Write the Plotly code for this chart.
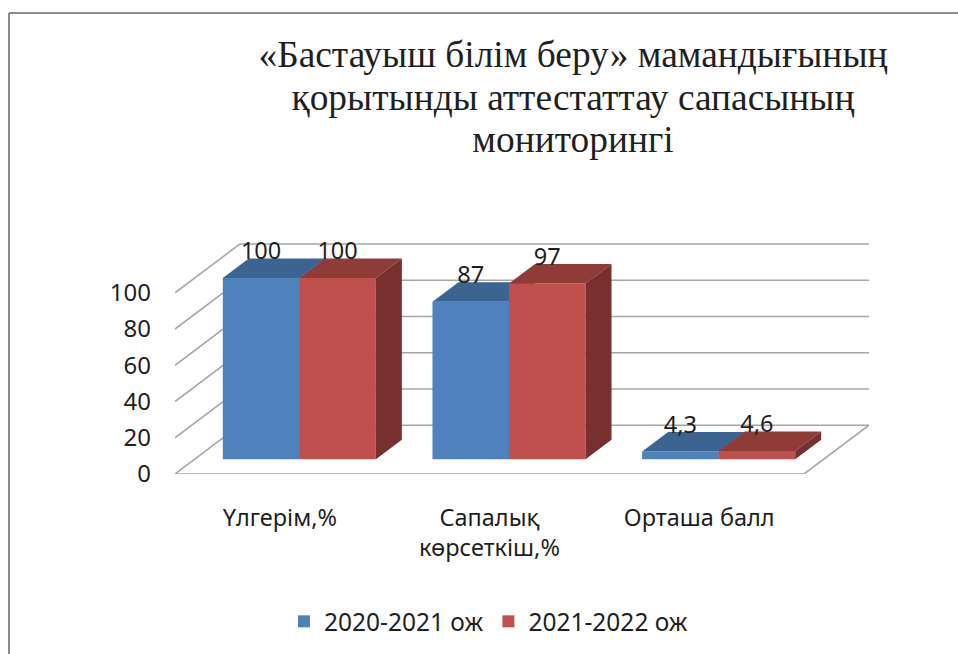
import plotly.graph_objects as go

# ---- data ----
categories = ["Үлгерім,%", "Сапалық<br>көрсеткіш,%", "Орташа балл"]
series_names = ["2020-2021 ож", "2021-2022 ож"]
values_2021 = [100, 87, 4.3]
values_2022 = [100, 97, 4.6]
value_labels_2021 = ["100", "87", "4,3"]
value_labels_2022 = ["100", "97", "4,6"]
y_ticks = [0, 20, 40, 60, 80, 100]
title_lines = ["«Бастауыш білім беру» мамандығының",
               "қорытынды аттестаттау сапасының",
               "мониторингі"]

# ---- oblique-projection style ----
W, H = 958, 654
L, R, T, B = 175, 869, 235, 475          # plot-area pixel box
X_RANGE = [-0.5, 2.81]
PX_PER_Y = 1.82
Y_RANGE = [0, (B - T) / PX_PER_Y]
DEPTH_X = X_RANGE[1] - 2.5               # full floor depth, x units
DEPTH_Y = 49 / PX_PER_Y                  # full floor depth, y units
BAR_START, BAR_END = 0.3, 0.7            # bar's place inside the depth
BAR_W = 0.365
GRID = "#a6a6a6"
TEXT = "#1f1f1f"
SANS = "Noto Sans, Open Sans, sans-serif"
SERIF = "Liberation Serif, serif"

front_colors = ["#4F81BD", "#C0504D"]
top_colors = ["#3C6491", "#8F3B38"]
side_colors = ["#3A5F8C", "#77302D"]

fig = go.Figure()
series = [values_2021, values_2022]
labels = [value_labels_2021, value_labels_2022]
axes = [("x", "y"), ("x2", "y2")]

dx0, dy0 = DEPTH_X * BAR_START, DEPTH_Y * BAR_START
ddx, ddy = DEPTH_X * (BAR_END - BAR_START), DEPTH_Y * (BAR_END - BAR_START)

for s, vals in enumerate(series):
    xa, ya = axes[s]
    lefts = [i + dx0 + (s - 1) * BAR_W for i in range(len(vals))]
    fig.add_trace(go.Bar(
        x=[l + BAR_W / 2 for l in lefts], y=vals, base=[dy0] * len(vals),
        width=BAR_W, name=series_names[s], marker_color=front_colors[s],
        marker_line_width=0, xaxis=xa, yaxis=ya, hoverinfo="skip"))
    for l, v in zip(lefts, vals):
        top = v + dy0
        fig.add_trace(go.Scatter(
            x=[l, l + BAR_W, l + BAR_W + ddx, l + ddx, l],
            y=[top, top, top + ddy, top + ddy, top],
            mode="lines", fill="toself", fillcolor=top_colors[s],
            line=dict(width=0), showlegend=False, xaxis=xa, yaxis=ya, hoverinfo="skip"))
        r = l + BAR_W
        fig.add_trace(go.Scatter(
            x=[r, r + ddx, r + ddx, r, r],
            y=[dy0, dy0 + ddy, top + ddy, top, dy0],
            mode="lines", fill="toself", fillcolor=side_colors[s],
            line=dict(width=0), showlegend=False, xaxis=xa, yaxis=ya, hoverinfo="skip"))

for s, vals in enumerate(series):
    lefts = [i + dx0 + (s - 1) * BAR_W for i in range(len(vals))]
    fig.add_trace(go.Scatter(
        x=[l + BAR_W / 2 for l in lefts],
        y=[v + dy0 + 25 / PX_PER_Y for v in vals],
        mode="text", text=labels[s], textposition="middle center",
        textfont=dict(family=SANS, size=23.5, color=TEXT),
        showlegend=False, xaxis="x2", yaxis="y2", hoverinfo="skip", cliponaxis=False))

# walls and floor, below all the marks
shapes = []
def seg(x0, y0, x1, y1):
    shapes.append(dict(type="line", xref="x", yref="y", x0=x0, y0=y0, x1=x1, y1=y1,
                       layer="below", line=dict(color=GRID, width=1.6)))
x_front_l, x_front_r = X_RANGE[0], 2.5
for t in y_ticks:
    seg(x_front_l, t, x_front_l + DEPTH_X, t + DEPTH_Y)
    seg(x_front_l + DEPTH_X, t + DEPTH_Y, x_front_r + DEPTH_X, t + DEPTH_Y)
seg(x_front_l, 0, x_front_r, 0)
seg(x_front_r, 0, x_front_r + DEPTH_X, DEPTH_Y)

# outer frame: open on the right and bottom, as in the source
def frac_x(px): return (px - L) / (R - L)
def frac_y(py): return (B - py) / (B - T)
for x0, y0, x1, y1 in [(9, 12, 970, 12), (9, 12, 9, 700)]:
    shapes.append(dict(type="line", xref="paper", yref="paper",
                       x0=frac_x(x0), y0=frac_y(y0), x1=frac_x(x1), y1=frac_y(y1),
                       layer="below", line=dict(color="#8c8c8c", width=2)))

title_text = "<br>".join(f'<span style="font-size:37.4px">{t}</span>' for t in title_lines)

axis_common = dict(range=X_RANGE, showgrid=False, zeroline=False, showline=False)
fig.update_layout(
    width=W, height=H, margin=dict(l=L, r=W - R, t=T, b=H - B),
    paper_bgcolor="white", plot_bgcolor="rgba(0,0,0,0)", barmode="overlay",
    shapes=shapes,
    title=dict(text=title_text, x=573 / W, xanchor="center",
               y=1 - 67 / H, yanchor="top",
               font=dict(family=SERIF, size=32.7, color=TEXT)),
    xaxis=dict(**axis_common, tickmode="array", tickvals=[0, 1, 2], ticktext=categories,
               ticks="", ticklabelstandoff=27, tickfont=dict(family=SANS, size=23.5, color=TEXT)),
    yaxis=dict(range=Y_RANGE, tickmode="array", tickvals=y_ticks, ticks="",
               showgrid=False, zeroline=False, showline=False, ticklabelstandoff=23,
               tickfont=dict(family=SANS, size=24, color=TEXT)),
    xaxis2=dict(**axis_common, overlaying="x", matches="x", visible=False),
    yaxis2=dict(range=Y_RANGE, overlaying="y", matches="y", visible=False),
    legend=dict(orientation="h", x=0.157, xanchor="left", y=-0.61, yanchor="middle",
                font=dict(family=SANS, size=24.5, color=TEXT), bgcolor="rgba(0,0,0,0)",
                traceorder="normal"),
    showlegend=True,
)

fig.write_html("out.html", config={"displayModeBar": False},
               post_script="document.body.style.margin='0';document.body.style.overflow='hidden';")
